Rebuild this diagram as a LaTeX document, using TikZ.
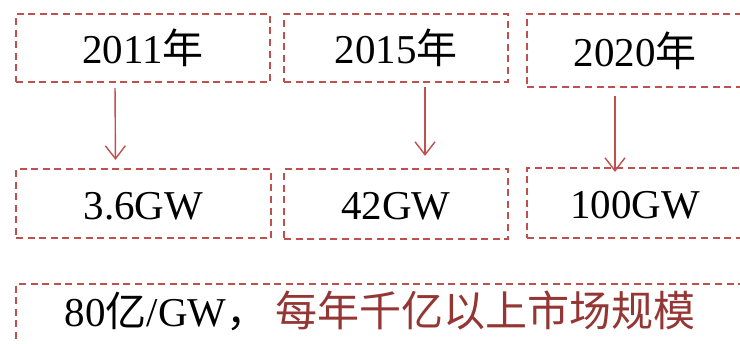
\documentclass[tikz,border=0pt]{standalone}
\usepackage{fontspec}
\setmainfont{Liberation Serif}
\newfontfamily\cjk{Noto Sans CJK SC}
\usetikzlibrary{arrows.meta}
\definecolor{boxred}{HTML}{C0504D}
\definecolor{textred}{HTML}{943634}
\tikzset{
  dbox/.style={draw=boxred, line width=2.2pt, dash pattern=on 7pt off 4.6pt,
    inner sep=0pt, align=center, text height=32pt, text depth=0pt,
    font=\fontsize{41}{48}\selectfont},
  arr/.style={draw=boxred, line width=1.4pt,
    -{Straight Barb[length=13pt,width=20pt]}}
}
\begin{document}
\begin{tikzpicture}[x=1pt,y=-1pt]
\useasboundingbox (0,0) rectangle (740,344);
\begin{scope}
\clip (0,0) rectangle (740,344);
\node[dbox, minimum width=254pt, minimum height=68pt] (t1) at (143,48) {2011{\cjk 年}};
\node[dbox, minimum width=224pt, minimum height=68pt] (t2) at (396,48) {2015{\cjk 年}};
\node[dbox, minimum width=216pt, minimum height=73pt] (t3) at (635,50.5) {2020{\cjk 年}};
\node[dbox, minimum width=255pt, minimum height=69pt] (b1) at (143.5,203.5) {3.6GW};
\node[dbox, minimum width=224pt, minimum height=70pt] (b2) at (396,204) {42GW};
\node[dbox, minimum width=216pt, minimum height=70pt] (b3) at (635,203) {100GW};
\node[dbox, minimum width=728pt, minimum height=62pt, text height=24pt] (mk) at (380,315)
  {80{\cjk 亿}/GW{\cjk ，}\hspace{8pt}{\color{textred}\cjk\fontsize{42}{48}\selectfont 每年千亿以上市场规模}};
\draw[arr, shorten <=5pt, shorten >=8pt] ([xshift=-28pt]t1.south) -- ([xshift=-28pt]b1.north);
\draw[arr, shorten <=4pt, shorten >=12pt] ([xshift=29pt]t2.south) -- ([xshift=29pt]b2.north);
\draw[arr, shorten <=8pt, shorten >=-5pt] ([xshift=-20pt]t3.south) -- ([xshift=-20pt]b3.north);
\end{scope}
\end{tikzpicture}
\end{document}
